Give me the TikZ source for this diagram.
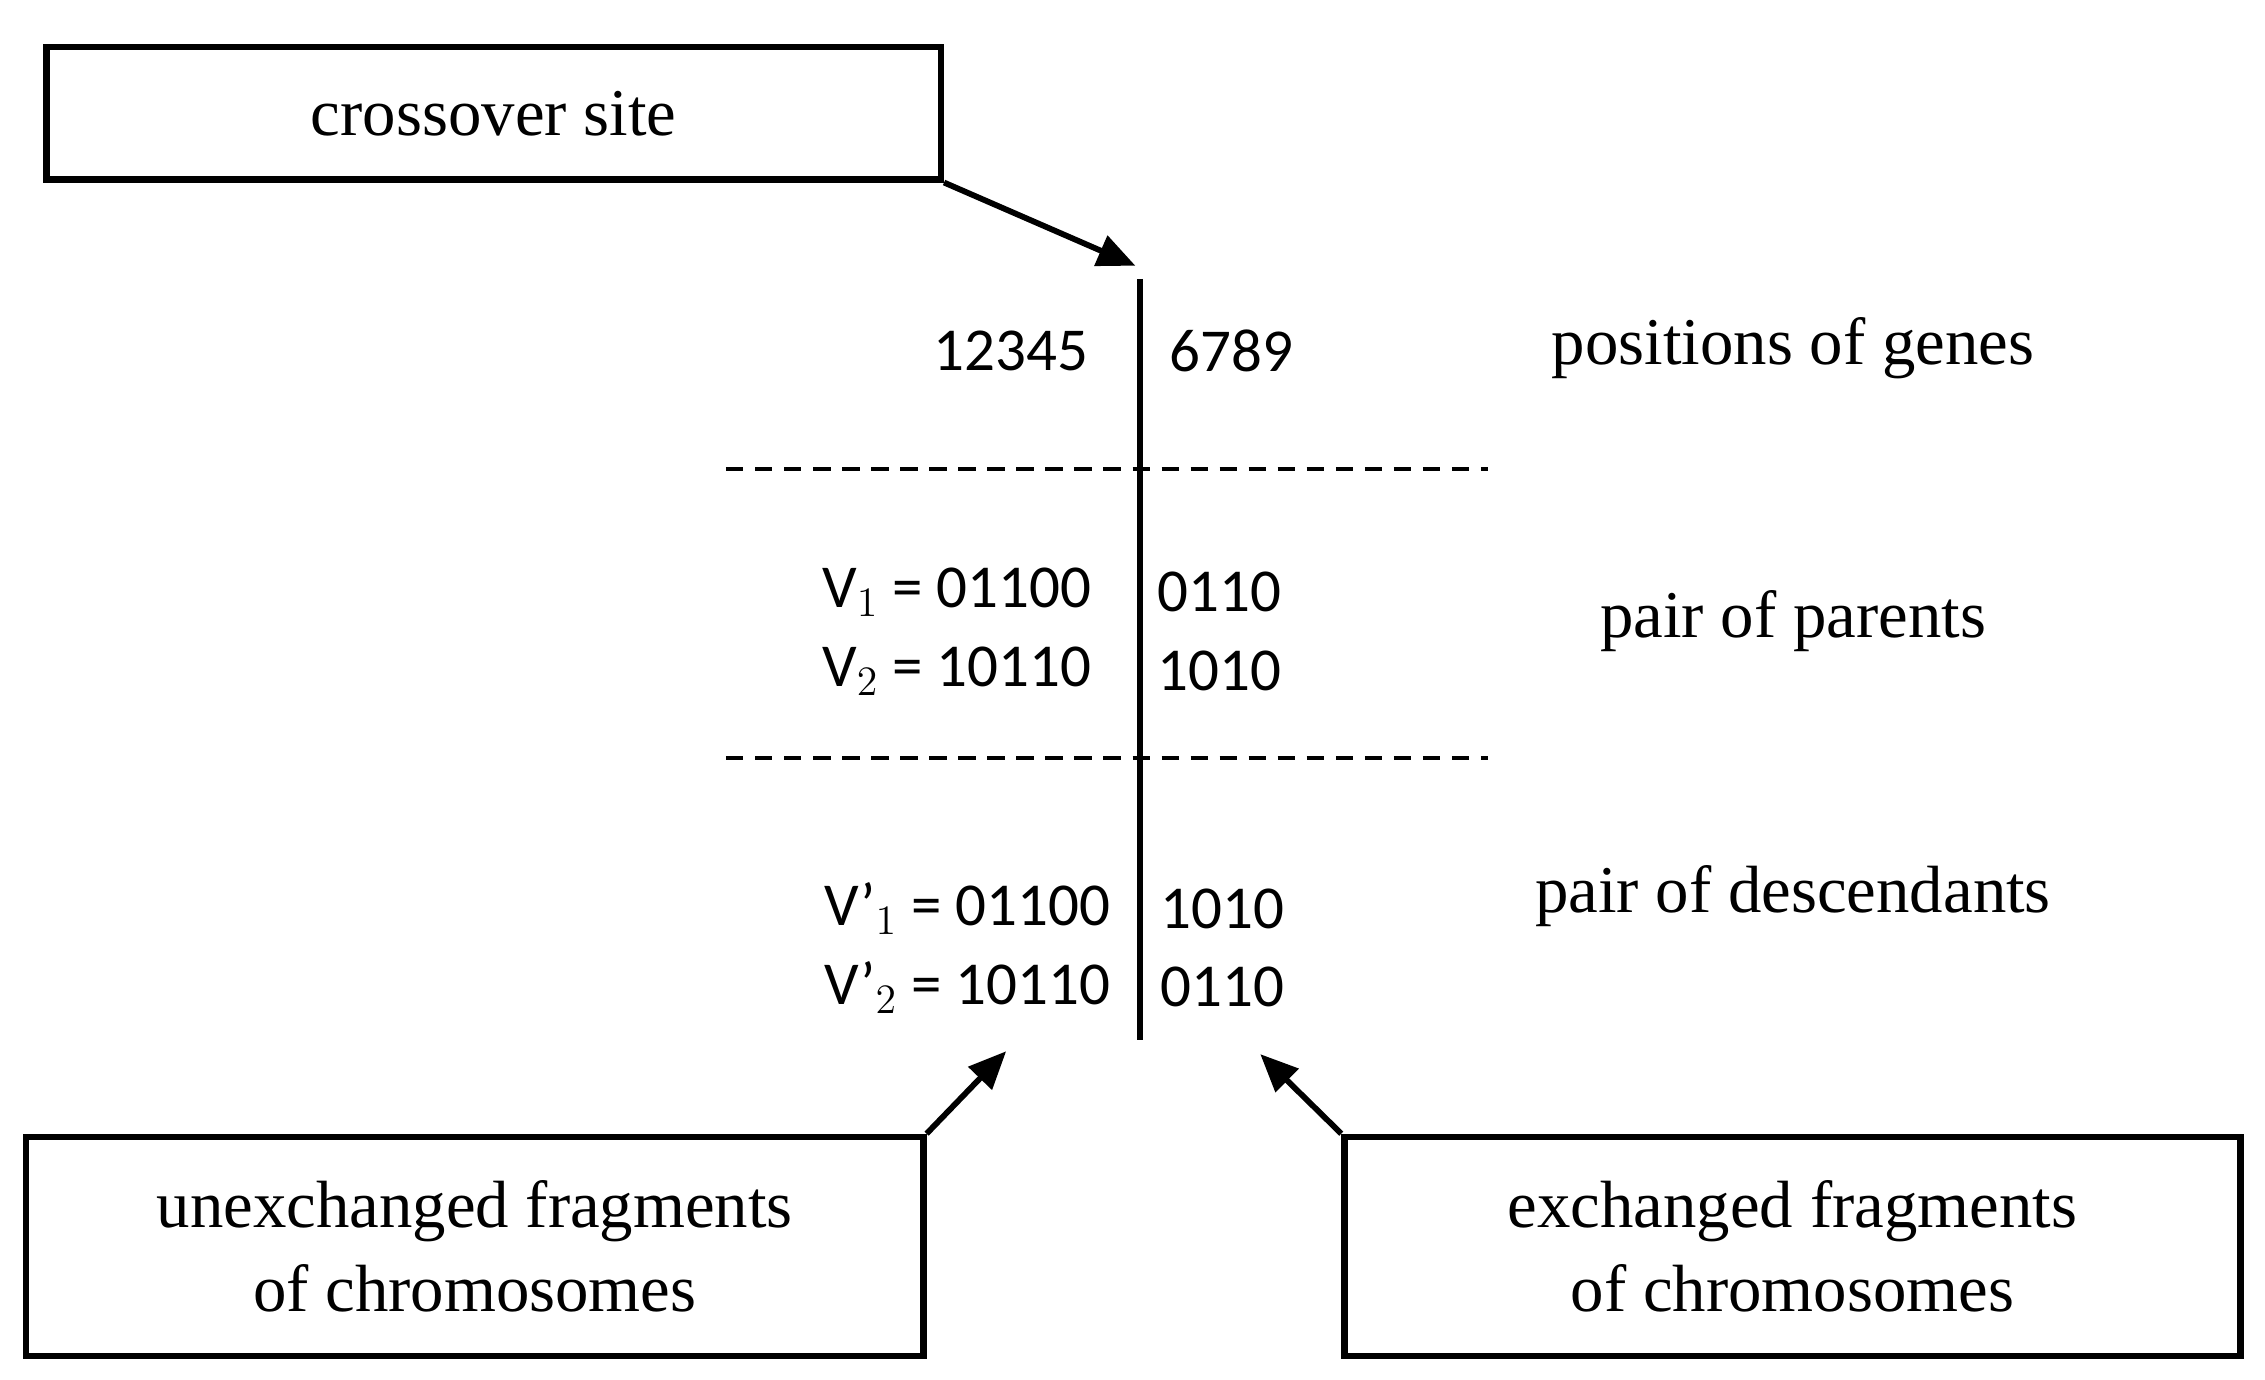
\documentclass[tikz,border=0pt]{standalone}
\usepackage{fontspec}
\setmainfont{Liberation Serif}
\newfontfamily\numf{Carlito}
\usetikzlibrary{arrows.meta}
\begin{document}
\begin{tikzpicture}[x=0.5pt,y=-0.5pt,
 box/.style={draw,line width=2.2pt,inner sep=0pt},
 lab/.style={font=\fontsize{23}{28}\selectfont,align=center},
 num/.style={font=\numf\fontsize{21}{26}\selectfont,inner sep=0pt},
 arr/.style={line width=2pt,-{Triangle[length=13pt,width=11pt]}},
 dsh/.style={line width=1.2pt,dash pattern=on 6pt off 4pt}]
\useasboundingbox (0,0) rectangle (1560,950);
\node[box,minimum width=308pt,minimum height=45.5pt] (cs) at (340,78) {};
\node[lab] at (cs) {crossover site};
\coordinate (top) at (785,192);
\coordinate (bot) at (785,716);
\draw[line width=2pt] (top) -- (bot);
\coordinate (csend) at (782,183);
\draw[arr] (cs.south east) -- (csend);
\node[num,anchor=east] (p1) at (750,242) {12345};
\node[num,anchor=west] (p2) at (805,242) {6789};
\node[lab] (pg) at (1235,240) {positions of genes};
\coordinate (d1a) at (500,323); \coordinate (d1b) at (1025,323);
\coordinate (d2a) at (500,522); \coordinate (d2b) at (1025,522);
\draw[dsh] (d1a) -- (d1b);
\draw[dsh] (d2a) -- (d2b);
\node[num,anchor=east] (v1) at (752,408) {V$_1$ = 01100};
\node[num,anchor=west] (v1r) at (797,408) {0110};
\node[num,anchor=east] (v2) at (752,462) {V$_2$ = 10110};
\node[num,anchor=west] (v2r) at (797,462) {1010};
\node[lab] (pp) at (1235,428) {pair of parents};
\node[num,anchor=east] (w1) at (765,626) {V’$_1$ = 01100};
\node[num,anchor=west] (w1r) at (799,626) {1010};
\node[num,anchor=east] (w2) at (765,680) {V’$_2$ = 10110};
\node[num,anchor=west] (w2r) at (799,680) {0110};
\node[lab] (pd) at (1235,617) {pair of descendants};
\node[box,minimum width=309pt,minimum height=75.5pt] (ub) at (327,858.5) {};
\node[lab,font=\fontsize{23}{29}\selectfont] at (ub) {unexchanged fragments\\of chromosomes};
\node[box,minimum width=308.5pt,minimum height=75.5pt] (eb) at (1234.5,858.5) {};
\node[lab,font=\fontsize{23}{29}\selectfont] at (eb) {exchanged fragments\\of chromosomes};
\coordinate (ua) at (693,724);
\coordinate (ea) at (868,726);
\draw[arr] (ub.north east) -- (ua);
\draw[arr] (eb.north west) -- (ea);
\end{tikzpicture}
\end{document}
